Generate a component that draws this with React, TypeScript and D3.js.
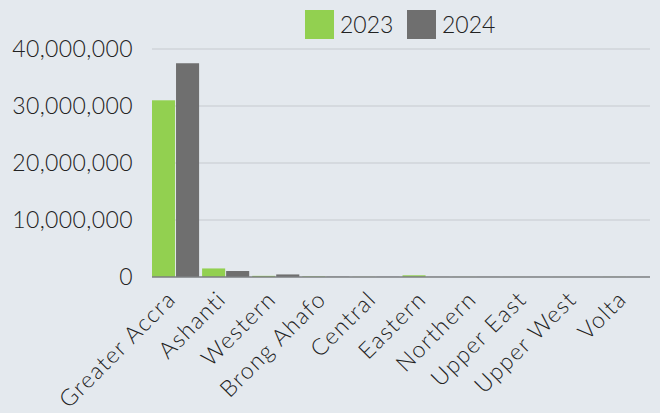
import React from "react";
import * as d3 from "d3";

const categories = ["Greater Accra", "Ashanti", "Western", "Brong Ahafo", "Central", "Eastern", "Northern", "Upper East", "Upper West", "Volta"];
const seriesNames = ["2023", "2024"];
const values2023 = [31000000, 1500000, 200000, 100000, 30000, 300000, 20000, 10000, 10000, 20000];
const values2024 = [37500000, 1050000, 450000, 50000, 30000, 20000, 20000, 10000, 10000, 10000];
const yTicks = [0, 10000000, 20000000, 30000000, 40000000];
const colors = ["#92d050", "#6f6f6f"];

export default function App() {
  const W = 660, H = 413;
  const left = 152, right = 650, top = 49, bottom = 277;
  const x0 = d3.scaleBand<string>().domain(categories).range([left, right]).paddingInner(0.06).paddingOuter(0.0).align(0);
  const x1 = d3.scaleBand<string>().domain(seriesNames).range([0, x0.bandwidth()]).paddingInner(0.04);
  const y = d3.scaleLinear().domain([0, 40000000]).range([bottom, top]);
  const fmt = d3.format(",");
  const font = "Lato, 'Noto Sans', sans-serif";
  const series = [values2023, values2024];
  return (
    <svg width={W} height={H} style={{ position: "absolute", left: 0, top: 0, background: "#e4e9ee" }} fontFamily={font} fontWeight={300}>
      <rect x={0} y={0} width={W} height={H} fill="#e4e9ee" />
      {yTicks.map((t) => (
        <g key={t}>
          {t > 0 && <line x1={left} x2={right} y1={y(t)} y2={y(t)} stroke="#c6cacf" strokeWidth={1} />}
          <text x={133} y={y(t)} dy="0.36em" textAnchor="end" fontSize={23} letterSpacing={0.4} fill="#222">{fmt(t)}</text>
        </g>
      ))}
      {categories.map((c, i) => (
        <g key={c} transform={`translate(${x0(c)},0)`}>
          {seriesNames.map((s, j) => {
            const v = series[j][i];
            return <rect key={s} x={x1(s)} y={y(v)} width={x1.bandwidth()} height={bottom - y(v)} fill={colors[j]} />;
          })}
        </g>
      ))}
      <line x1={left} x2={right} y1={bottom} y2={bottom} stroke="#7d7f82" strokeWidth={1.5} />
      {categories.map((c) => {
        const cx = (x0(c) as number) + x0.bandwidth() / 2;
        return (
          <text key={c} transform={`translate(${cx - 4},${bottom + 18}) rotate(-45)`} textAnchor="end" dy="0.35em" fontSize={23} letterSpacing={1.4} fill="#222">{c}</text>
        );
      })}
      {seriesNames.map((s, j) => (
        <g key={s} transform={`translate(${305 + j * 102},10)`}>
          <rect x={0} y={0} width={29} height={29} fill={colors[j]} />
          <text x={35} y={14.5} dy="0.36em" fontSize={23} fill="#222">{s}</text>
        </g>
      ))}
    </svg>
  );
}
